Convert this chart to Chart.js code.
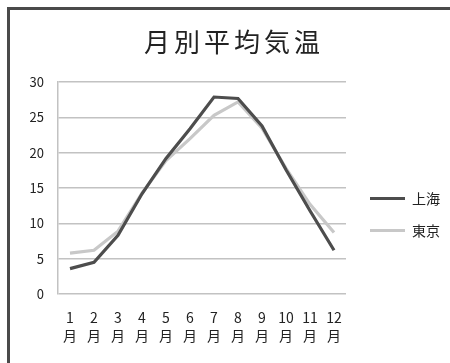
<!DOCTYPE html>
<html lang="ja">
<head>
<meta charset="utf-8">
<title>月別平均気温</title>
<script src="https://cdn.jsdelivr.net/npm/chart.js@4.4.1/dist/chart.umd.min.js"></script>
<style>
  html, body { margin: 0; padding: 0; background: #fff; }
  #wrap { position: relative; width: 450px; height: 363px; overflow: hidden; }
  #frame {
    position: absolute; left: 7px; top: 7px; width: 480px; height: 400px;
    border: 3px solid #4a4a4a; box-sizing: border-box;
  }
  #chart { position: absolute; left: 0; top: 0; }
</style>
</head>
<body>
<div id="wrap">
  <div id="frame"></div>
  <canvas id="chart" width="450" height="363"></canvas>
</div>
<script>
// Monthly mean temperature (°C)
const months = ["1", "2", "3", "4", "5", "6", "7", "8", "9", "10", "11", "12"];
const monthSuffix = "月";
const shanghai = [3.6, 4.5, 8.3, 14.2, 19.2, 23.4, 27.9, 27.7, 23.8, 17.6, 11.8, 6.2];
const tokyo = [5.8, 6.2, 8.9, 14.3, 18.9, 22.0, 25.3, 27.2, 23.5, 17.8, 12.7, 8.7];
const yTicks = [0, 5, 10, 15, 20, 25, 30];

const FONT = "'Noto Sans CJK JP', 'Noto Sans', sans-serif";

const labels = months.map(m => [m, monthSuffix]);

const chart = new Chart(document.getElementById("chart"), {
  type: "line",
  data: {
    labels,
    datasets: [
      {
        label: "上海",
        data: shanghai,
        borderColor: "#4d4d4d",
        backgroundColor: "#4d4d4d",
        borderWidth: 3.2,
        pointRadius: 0,
        tension: 0
      },
      {
        label: "東京",
        data: tokyo,
        borderColor: "#c8c8c8",
        backgroundColor: "#c8c8c8",
        borderWidth: 3.2,
        pointRadius: 0,
        tension: 0
      }
    ]
  },
  options: {
    responsive: false,
    animation: false,
    layout: { padding: { left: 10, right: 0, top: 14, bottom: 4 } },
    plugins: {
      title: {
        display: true,
        text: "月別平均気温",
        color: "#222",
        font: { family: FONT, size: 26, weight: "normal", lineHeight: 1.2 },
        padding: { top: 13, bottom: 24 }
      },
      legend: {
        position: "right",
        maxWidth: 110,
        // empty title block only reserves space above the items
        title: {
          display: true,
          text: "",
          padding: 0,
          font: { family: FONT, size: 14, lineHeight: 4 }
        },
        labels: {
          boxWidth: 35,
          boxHeight: 0,
          padding: 18,
          color: "#222",
          font: { family: FONT, size: 14 }
        }
      },
      tooltip: { enabled: false }
    },
    scales: {
      x: {
        offset: true,
        grid: { display: false, drawTicks: false },
        border: { display: false },
        ticks: {
          color: "#222",
          padding: 15,
          maxRotation: 0,
          autoSkip: false,
          font: { family: FONT, size: 14, lineHeight: 1.25 }
        }
      },
      y: {
        min: 0,
        max: 30,
        afterBuildTicks(scale) { scale.ticks = yTicks.map(v => ({ value: v })); },
        afterFit(scale) { scale.width = 48; },
        grid: { color: "#c2c2c2", lineWidth: 1.5, drawTicks: false },
        border: { display: true, color: "#c2c2c2", width: 1.5 },
        ticks: {
          color: "#222",
          padding: 14,
          font: { family: FONT, size: 13 }
        }
      },
      gap: {
        position: "right",
        display: true,
        grid: { display: false, drawTicks: false },
        border: { display: false },
        ticks: { display: false },
        afterFit(scale) { scale.width = 6; }
      }
    }
  }
});

// Wider character spacing for the title text, centred over the framed area
const titleDraw = chart.titleBlock.draw;
chart.titleBlock.draw = function () {
  const ctx = this.ctx;
  ctx.save();
  ctx.letterSpacing = "4px";
  ctx.translate(4, 0);
  titleDraw.apply(this, arguments);
  ctx.restore();
};
chart.draw();
</script>
</body>
</html>
